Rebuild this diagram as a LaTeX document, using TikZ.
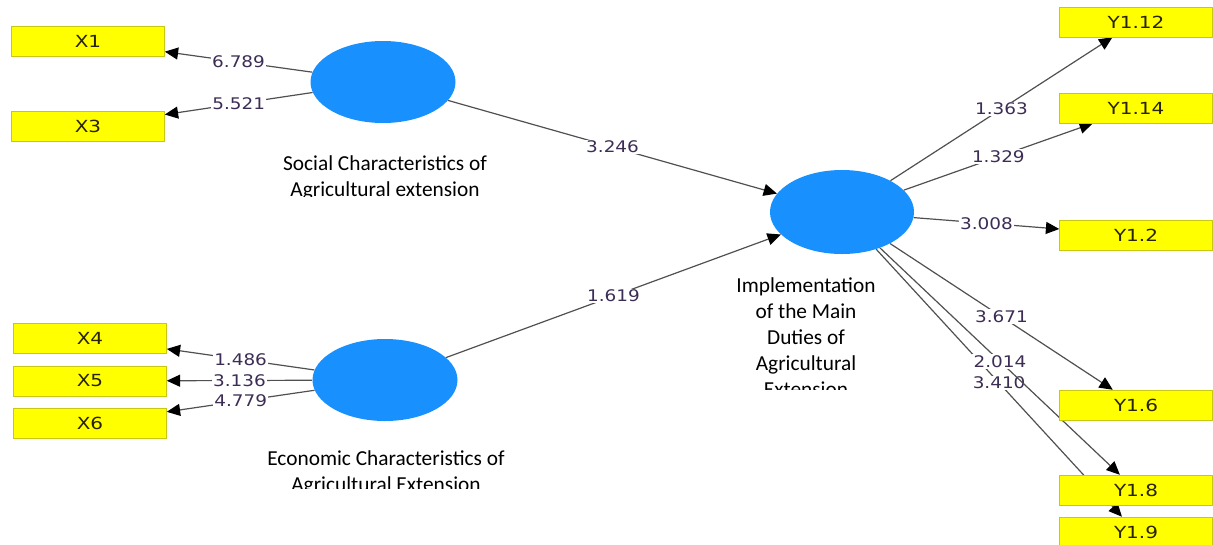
\documentclass[tikz,border=0pt]{standalone}
\usepackage{fontspec}
\setmainfont{Carlito}
\newfontfamily\verd{DejaVu Sans}
\usetikzlibrary{shapes.geometric,arrows.meta,backgrounds}
\definecolor{lvc}{RGB}{24,145,255}
\definecolor{indc}{RGB}{255,255,0}
\definecolor{indb}{RGB}{200,200,20}
\definecolor{lblc}{RGB}{60,45,85}
\definecolor{edgec}{RGB}{80,80,80}
\definecolor{boxtxt}{RGB}{40,35,0}
\newcommand{\lbl}[1]{\scalebox{1.15}[1]{#1}}
\newcommand{\bxt}[1]{\scalebox{1.2}[1]{#1}}
\begin{document}
\begin{tikzpicture}[x=0.75pt,y=-0.75pt,
 indbox/.style={draw=indb,fill=indc,minimum width=114.75pt,minimum height=22.5pt,inner sep=0pt,text=boxtxt,font=\verd\fontsize{12.5}{14}\selectfont},
 lvar/.style={ellipse,fill=lvc,inner sep=0pt,minimum width=108.75pt,minimum height=61.5pt},
 captext/.style={font=\fontsize{16}{19.5}\selectfont,align=center,inner sep=0pt,anchor=base},
 link/.style={draw=edgec,line width=0.9pt,-{Triangle[length=10pt,width=9pt,color=black]}},
 wt/.style={fill=white,inner sep=1pt,text=lblc,font=\verd\fontsize{12}{14}\selectfont}]
\clip (0,0) rectangle (1213,544);
\useasboundingbox (0,0) rectangle (1213,544);
% indicators
\node[indbox] (x1) at (88,41) {\bxt{X1}};
\node[indbox] (x3) at (88,126) {\bxt{X3}};
\node[indbox] (x4) at (90,338) {\bxt{X4}};
\node[indbox] (x5) at (90,381) {\bxt{X5}};
\node[indbox] (x6) at (90,423) {\bxt{X6}};
\node[indbox] (y112) at (1136,22) {\bxt{Y1.12}};
\node[indbox] (y114) at (1136,108) {\bxt{Y1.14}};
\node[indbox] (y12) at (1136,235) {\bxt{Y1.2}};
\node[indbox] (y16) at (1136,405) {\bxt{Y1.6}};
\node[indbox] (y18) at (1136,490) {\bxt{Y1.8}};
\node[indbox] (y19) at (1136,532) {\bxt{Y1.9}};
% latent variables
\node[lvar] (soc) at (383,82) {};
\node[lvar] (eco) at (385,380) {};
\node[lvar,minimum width=108pt,minimum height=63pt] (imp) at (842,212) {};
% captions
\begin{scope}
\clip (250,140) rectangle (520,196);
\node[captext] (soccap) at (385,196) {Social Characteristics of\\Agricultural extension};
\end{scope}
\begin{scope}
\clip (250,440) rectangle (520,488);
\node[captext] (ecocap) at (386,491) {Economic Characteristics of\\Agricultural Extension};
\end{scope}
\begin{scope}
\clip (700,270) rectangle (900,389);
\node[captext] (impcap) at (806,396) {Implementation\\of the Main\\Duties of\\Agricultural\\Extension};
\end{scope}
% connectors
\begin{scope}[on background layer]
\draw[link] (soc) -- node[wt]{\lbl{6.789}} (x1);
\draw[link] (soc) -- node[wt]{\lbl{5.521}} (x3);
\draw[link] (eco) -- node[wt]{\lbl{1.486}} (x4);
\draw[link] (eco) -- node[wt]{\lbl{3.136}} (x5);
\draw[link] (eco) -- node[wt]{\lbl{4.779}} (x6);
\draw[link] (soc) -- node[wt]{\lbl{3.246}} (imp);
\draw[link] (eco) -- node[wt]{\lbl{1.619}} (imp);
\draw[link] (imp) -- node[wt]{\lbl{1.363}} (y112);
\draw[link] (imp) -- node[wt]{\lbl{1.329}} (y114);
\draw[link] (imp) -- node[wt]{\lbl{3.008}} (y12);
\draw[link] (imp) -- node[wt]{\lbl{3.671}} (y16);
\draw[link] (imp) -- node[wt]{\lbl{3.410}} (y19);
\draw[link] (imp) -- node[wt]{\lbl{2.014}} (y18);
\end{scope}
\end{tikzpicture}
\end{document}
